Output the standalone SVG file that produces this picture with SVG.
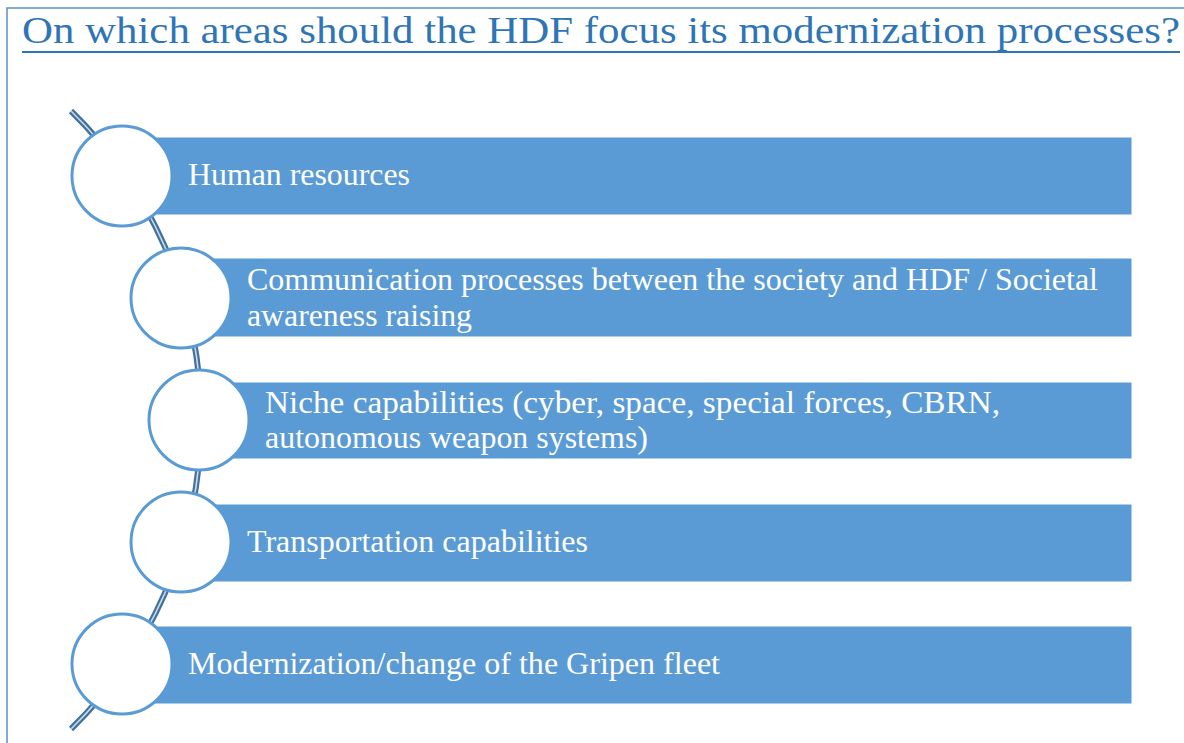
<svg xmlns="http://www.w3.org/2000/svg" width="1184" height="743" viewBox="0 0 1184 743">
  <style>
    .bar { fill: #5B9BD5; stroke: #FFFFFF; stroke-width: 1; }
    .dot { fill: #FFFFFF; stroke: #5B9BD5; stroke-width: 3; }
    .lbl { font-family: "Liberation Serif", "Times New Roman", serif; font-size: 32px; fill: #FFFFFF; }
    .title { font-family: "Liberation Serif", "Times New Roman", serif; font-size: 38px; fill: #2E75B6; }
  </style>
  <rect x="0" y="0" width="1184" height="743" fill="#FFFFFF"/>
  <rect x="7" y="8" width="1200" height="760" fill="none" stroke="#5B8FC9" stroke-width="1.5"/>
  <g id="title">
    <text class="title" x="22" y="43" textLength="1158" lengthAdjust="spacingAndGlyphs">On which areas should the HDF focus its modernization processes?</text>
    <line x1="22" y1="52" x2="1180" y2="52" stroke="#2E75B6" stroke-width="2"/>
  </g>
  <g id="connectors">
    <path d="M 71 111 A 432 432 0 0 1 71 729" fill="none" stroke="#41719C" stroke-width="6"/>
    <path d="M 71 111 A 432 432 0 0 1 71 729" fill="none" stroke="#C9DAEC" stroke-width="1.6"/>
  </g>
  <g id="node1">
    <rect class="bar" x="122" y="137" width="1010" height="78"/>
    <circle class="dot" cx="122" cy="176" r="50"/>
    <text class="lbl" x="188" y="185" textLength="222" lengthAdjust="spacingAndGlyphs">Human resources</text>
  </g>
  <g id="node2">
    <rect class="bar" x="181" y="258" width="951" height="79"/>
    <circle class="dot" cx="181" cy="298" r="50"/>
    <text class="lbl" x="247" y="290" textLength="851" lengthAdjust="spacingAndGlyphs">Communication processes between the society and HDF / Societal</text>
    <text class="lbl" x="247" y="326" textLength="225" lengthAdjust="spacingAndGlyphs">awareness raising</text>
  </g>
  <g id="node3">
    <rect class="bar" x="199" y="382" width="933" height="77"/>
    <circle class="dot" cx="199" cy="420" r="50"/>
    <text class="lbl" x="265" y="413" textLength="735" lengthAdjust="spacingAndGlyphs">Niche capabilities (cyber, space, special forces, CBRN,</text>
    <text class="lbl" x="265" y="448" textLength="383" lengthAdjust="spacingAndGlyphs">autonomous weapon systems)</text>
  </g>
  <g id="node4">
    <rect class="bar" x="181" y="504" width="951" height="78"/>
    <circle class="dot" cx="181" cy="542" r="50"/>
    <text class="lbl" x="247" y="552" textLength="341" lengthAdjust="spacingAndGlyphs">Transportation capabilities</text>
  </g>
  <g id="node5">
    <rect class="bar" x="122" y="626" width="1010" height="78"/>
    <circle class="dot" cx="122" cy="664" r="50"/>
    <text class="lbl" x="188" y="674" textLength="532" lengthAdjust="spacingAndGlyphs">Modernization/change of the Gripen fleet</text>
  </g>
</svg>
